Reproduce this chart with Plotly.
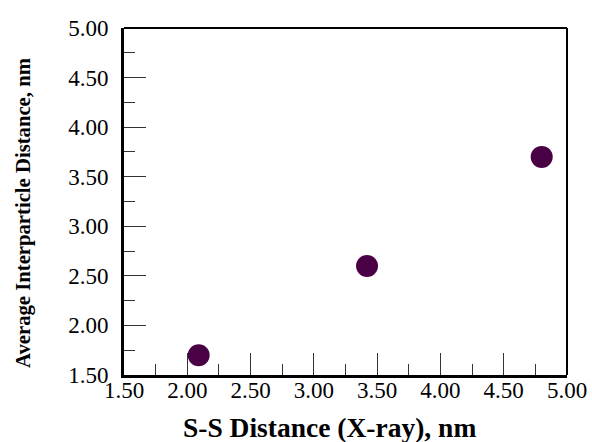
import plotly.graph_objects as go

ss_distance = [2.09, 3.42, 4.80]
avg_interparticle = [1.70, 2.60, 3.70]
tick_vals = [1.5, 2.0, 2.5, 3.0, 3.5, 4.0, 4.5, 5.0]
tick_text = ["1.50", "2.00", "2.50", "3.00", "3.50", "4.00", "4.50", "5.00"]
x_title = "S-S Distance (X-ray), nm"
y_title = "Average Interparticle Distance, nm"

SERIF = "Liberation Serif"

fig = go.Figure()
fig.add_trace(go.Scatter(
    x=ss_distance, y=avg_interparticle, mode="markers",
    marker=dict(size=22, color="#4a0045", line=dict(width=0)),
    showlegend=False, cliponaxis=False))

axis_common = dict(
    range=[1.5, 5.0], tickvals=tick_vals, ticktext=tick_text,
    ticks="inside", ticklen=22, tickwidth=1, tickcolor="#333",
    minor=dict(ticks="inside", ticklen=11, tickwidth=1, tickcolor="#333", dtick=0.25, tick0=1.5),
    showline=True, linewidth=3, linecolor="black", mirror=False,
    showgrid=False, zeroline=False, fixedrange=True,
    automargin=False,
)

fig.update_xaxes(**axis_common, ticklabelstandoff=-8,
                 tickfont=dict(family=SERIF, size=23, color="black"))
fig.update_yaxes(**axis_common, ticklabelstandoff=8,
                 tickfont=dict(family=SERIF, size=23, color="black"))

fig.add_annotation(text="<b>" + x_title + "</b>", xref="paper", yref="paper",
                   x=0.465, y=-0.15, xanchor="center", yanchor="middle", showarrow=False,
                   font=dict(family=SERIF, size=27.5, color="black"))
fig.add_annotation(text="<b>" + y_title + "</b>", xref="paper", yref="paper",
                   x=-0.2257, y=0.467, xanchor="center", yanchor="middle", showarrow=False,
                   textangle=-90, font=dict(family=SERIF, size=20.7, color="black"))

# thinner top and right frame lines
fig.add_shape(type="line", xref="paper", yref="paper", x0=0, x1=1, y0=1, y1=1,
              line=dict(color="black", width=2))
fig.add_shape(type="line", xref="paper", yref="paper", x0=1, x1=1, y0=0, y1=1,
              line=dict(color="black", width=2))

fig.update_layout(
    width=592, height=442,
    margin=dict(l=124, r=25, t=28, b=67),
    plot_bgcolor="white", paper_bgcolor="white",
    font=dict(family=SERIF, color="black"),
)

fig.write_html("out.html", config={"displayModeBar": False},
               post_script="document.body.style.margin='0';")
